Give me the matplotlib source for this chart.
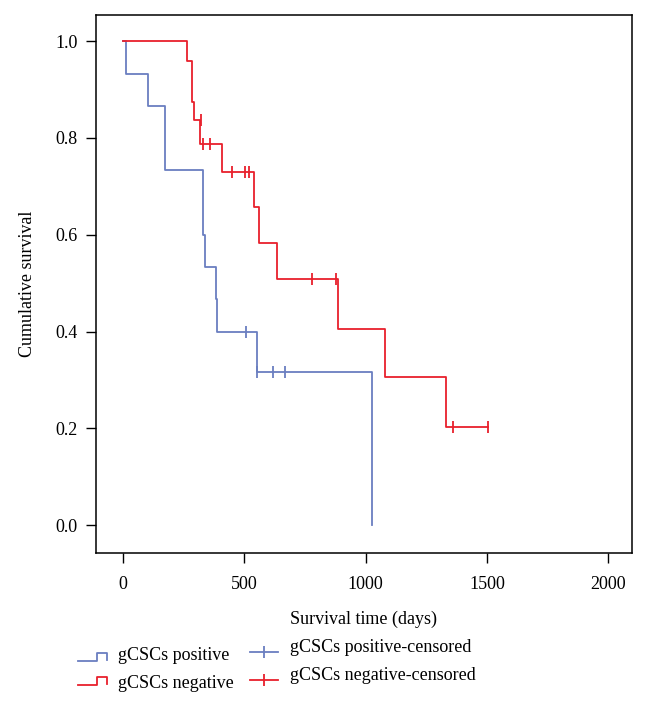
import matplotlib.pyplot as plt
from matplotlib.lines import Line2D

# step curves: times (days) and survival level after each step
pos_times = [0, 12, 105, 174, 332, 339, 383, 387, 554, 1028]
pos_surv = [1.0, 0.933, 0.867, 0.733, 0.600, 0.533, 0.467, 0.400, 0.317, 0.0]
pos_cens_t = [508, 554, 620, 668]
pos_cens_s = [0.400, 0.317, 0.317, 0.317]

neg_times = [0, 264, 284, 295, 318, 408, 542, 561, 637, 888, 1080, 1330, 1503]
neg_surv = [1.0, 0.959, 0.875, 0.837, 0.787, 0.730, 0.658, 0.584, 0.508, 0.406, 0.306, 0.202, 0.202]
neg_cens_t = [322, 329, 360, 449, 504, 521, 778, 879, 1359, 1503]
neg_cens_s = [0.837, 0.787, 0.787, 0.730, 0.730, 0.730, 0.508, 0.508, 0.202, 0.202]

xticks = [0, 500, 1000, 1500, 2000]
yticks = [0.0, 0.2, 0.4, 0.6, 0.8, 1.0]
labels = ["gCSCs positive", "gCSCs negative", "gCSCs positive-censored", "gCSCs negative-censored"]

blue = "#6a7ec0"
red = "#e8202c"

plt.rcParams["font.family"] = ["Liberation Serif", "DejaVu Serif"]
plt.rcParams["font.size"] = 13

fig = plt.figure(figsize=(6.49, 7.08), dpi=100)
ax = fig.add_axes([0.1475, 0.2185, 0.8258, 0.7603])

ax.step(pos_times, pos_surv, where="post", color=blue, lw=1.3)
ax.step(neg_times, neg_surv, where="post", color=red, lw=1.3)
ax.plot(pos_cens_t, pos_cens_s, ls="none", marker="|", ms=8, mew=1.3, color=blue)
ax.plot(neg_cens_t, neg_cens_s, ls="none", marker="|", ms=8, mew=1.3, color=red)

ax.set_xlim(-111, 2096)
ax.set_ylim(-0.058, 1.054)
ax.set_xticks(xticks)
ax.set_yticks(yticks)
ax.set_yticklabels([f"{v:.1f}" for v in yticks])
ax.tick_params(direction="out", length=7, width=1, pad=6)
ax.tick_params(axis="x", pad=9)
for s in ax.spines.values():
    s.set_linewidth(1.1)

ax.set_xlabel("Survival time (days)", labelpad=13)
ax.set_ylabel("Cumulative survival", labelpad=14)

# legend drawn by hand below the axes (pixel positions, origin top-left)
W, H = 649, 708


def px(x, y):
    return x / W, 1 - y / H


def step_icon(y, color):
    xs = [78, 97, 97, 107, 107]
    ys = [y + 8, y + 8, y, y, y + 7]
    fx, fy = zip(*[px(a, b) for a, b in zip(xs, ys)])
    fig.add_artist(Line2D(fx, fy, color=color, lw=1.3))


def cens_icon(y, color):
    (x0, fy), (x1, _) = px(250, y), px(278, y)
    fig.add_artist(Line2D([x0, x1], [fy, fy], color=color, lw=1.3))
    fig.add_artist(Line2D([(x0 + x1) / 2], [fy], marker="|", ms=8, mew=1.3, color=color))


step_icon(653, blue)
step_icon(677, red)
cens_icon(652, blue)
cens_icon(680, red)
for (x, y), txt in zip([(118, 656), (118, 683), (290, 648), (290, 675)], labels):
    fx, fy = px(x, y)
    fig.text(fx, fy, txt, ha="left", va="center")

fig.savefig("out.png", dpi=100)
